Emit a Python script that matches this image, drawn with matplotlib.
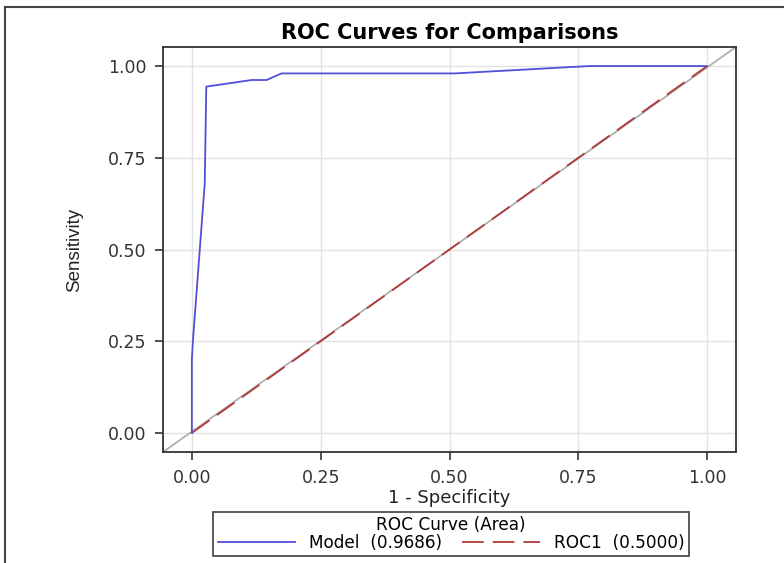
import matplotlib
matplotlib.use('Agg')
import matplotlib.pyplot as plt
from matplotlib.lines import Line2D

# ROC points of the fitted model (1 - specificity, sensitivity)
model_fpr = [0.0, 0.0, 0.002, 0.025, 0.028, 0.116, 0.145, 0.174, 0.51, 0.77, 1.0]
model_tpr = [0.0, 0.20, 0.25, 0.68, 0.944, 0.962, 0.962, 0.980, 0.980, 1.0, 1.0]
model_area = 0.9686

# chance line
roc1_fpr = [0.0, 1.0]
roc1_tpr = [0.0, 1.0]
roc1_area = 0.5000

ticks = [0.0, 0.25, 0.5, 0.75, 1.0]

plt.rcParams['font.family'] = ['DejaVu Sans']

fig = plt.figure(figsize=(7.84, 5.63), dpi=100)
W, H = 784, 563
ax = fig.add_axes([163 / W, 1 - 452 / H, (736 - 163) / W, (452 - 47) / H])

ax.plot([0, 1], [0, 1], transform=ax.transAxes, color='#aaaaaa', lw=1.2, zorder=2)
ax.plot(roc1_fpr, roc1_tpr, color='#b03a3a', lw=1.3, dashes=(12, 5), zorder=3)
ax.plot(model_fpr, model_tpr, color='#5050d8', lw=1.3, zorder=4)

ax.set_xlim(-0.056, 1.056)
ax.set_ylim(-0.052, 1.052)
ax.set_xticks(ticks)
ax.set_yticks(ticks)
ax.set_xticklabels(['%.2f' % t for t in ticks])
ax.set_yticklabels(['%.2f' % t for t in ticks])
ax.tick_params(direction='out', length=6, width=1.2, colors='#333333',
               labelsize=12.5, labelcolor='#333333', pad=6)
ax.grid(True, color='#e2e2e2', lw=1)
ax.set_axisbelow(True)
for s in ax.spines.values():
    s.set_color('#333333')
    s.set_linewidth(1.3)

ax.set_title('ROC Curves for Comparisons', fontsize=15, fontweight='bold', pad=6)
ax.set_xlabel('1 - Specificity', fontsize=13, color='#222222', labelpad=2)
ax.set_ylabel('Sensitivity', fontsize=13.5, color='#222222', labelpad=18,
              family=['Liberation Sans Narrow', 'Liberation Sans'])

handles = [Line2D([], [], color='#5050d8', lw=1.3),
           Line2D([], [], color='#b03a3a', lw=1.3, dashes=(12, 5))]
labels = ['Model  (%.4f)' % model_area, 'ROC1  (%.4f)' % roc1_area]
leg = fig.legend(handles, labels, title='ROC Curve (Area)', ncol=2,
                 loc='center', bbox_to_anchor=(451 / W, 1 - 534 / H),
                 fontsize=12.2, title_fontsize=12.2, frameon=True, fancybox=False,
                 handlelength=4.6, columnspacing=1.2, borderpad=0.25,
                 labelspacing=0.0, handletextpad=0.8, borderaxespad=0)
leg.get_frame().set_edgecolor('#222222')
leg.get_frame().set_linewidth(1.3)

# outer border of the output panel
fig.add_artist(Line2D([5 / W, 5 / W], [0, 1 - 7 / H], transform=fig.transFigure,
                      color='#444444', lw=1.5))
fig.add_artist(Line2D([5 / W, 1], [1 - 7 / H, 1 - 7 / H], transform=fig.transFigure,
                      color='#444444', lw=1.5))

fig.savefig('out.png', dpi=100)
